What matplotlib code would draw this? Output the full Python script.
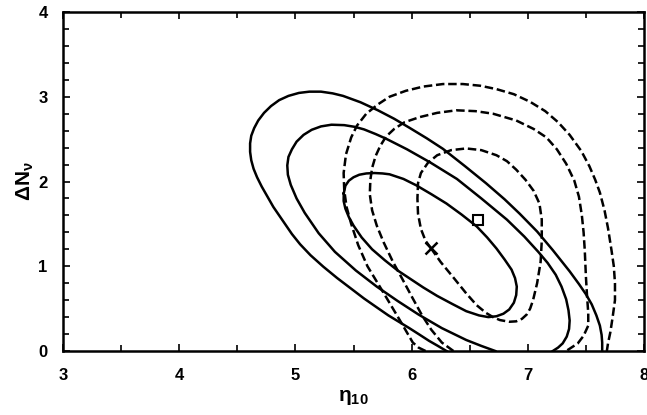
import matplotlib
matplotlib.use("Agg")
import matplotlib.pyplot as plt
from matplotlib.ticker import MultipleLocator

# contour lines, (eta10, dN_nu)
solid_inner = [(5.416, 1.86), (5.43, 1.95), (5.46, 2.01), (5.50, 2.05), (5.55, 2.08),
               (5.61, 2.095), (5.68, 2.10), (5.75, 2.095), (5.81, 2.085), (5.93, 2.03),
               (6.04, 1.955), (6.17, 1.85), (6.30, 1.74), (6.43, 1.61), (6.56, 1.47),
               (6.65, 1.34), (6.73, 1.21), (6.80, 1.08), (6.86, 0.96), (6.89, 0.86),
               (6.905, 0.76), (6.90, 0.66), (6.88, 0.57), (6.84, 0.49), (6.79, 0.44),
               (6.73, 0.41), (6.66, 0.40), (6.58, 0.42), (6.47, 0.47), (6.35, 0.555),
               (6.22, 0.65), (6.10, 0.75), (5.99, 0.85), (5.88, 0.95), (5.77, 1.07),
               (5.66, 1.20), (5.57, 1.34), (5.50, 1.48), (5.46, 1.58), (5.43, 1.68),
               (5.415, 1.77), (5.416, 1.86)]

solid_middle = [(6.72, 0.0), (6.60, 0.06), (6.47, 0.13), (6.26, 0.27), (6.06, 0.43),
                (5.88, 0.59), (5.70, 0.76), (5.52, 0.95), (5.34, 1.17), (5.20, 1.39),
                (5.08, 1.63), (5.01, 1.80), (4.96, 1.96), (4.935, 2.08), (4.93, 2.19),
                (4.94, 2.29), (4.97, 2.38), (5.01, 2.47), (5.07, 2.55), (5.14, 2.61),
                (5.22, 2.65), (5.31, 2.67), (5.42, 2.665), (5.51, 2.645), (5.59, 2.615),
                (5.69, 2.56), (5.78, 2.505), (5.96, 2.38), (6.16, 2.225), (6.39, 2.03),
                (6.60, 1.80), (6.82, 1.55), (6.97, 1.35), (7.09, 1.17), (7.17, 1.04),
                (7.24, 0.90), (7.29, 0.76), (7.33, 0.61), (7.35, 0.48), (7.36, 0.36),
                (7.355, 0.26), (7.335, 0.17), (7.30, 0.09), (7.26, 0.04), (7.215, 0.0)]

solid_outer = [(6.30, 0.0), (6.22, 0.065), (6.15, 0.12), (6.06, 0.20), (5.98, 0.27),
               (5.89, 0.345), (5.80, 0.42), (5.70, 0.515), (5.59, 0.62), (5.48, 0.735),
               (5.36, 0.86), (5.24, 0.995), (5.13, 1.13), (5.04, 1.26), (4.97, 1.38),
               (4.92, 1.48), (4.87, 1.58), (4.81, 1.70), (4.76, 1.82), (4.71, 1.94),
               (4.67, 2.05), (4.64, 2.15), (4.62, 2.25), (4.61, 2.35), (4.61, 2.45),
               (4.62, 2.54), (4.645, 2.63), (4.68, 2.72), (4.73, 2.81), (4.79, 2.89),
               (4.86, 2.96), (4.94, 3.01), (5.03, 3.045), (5.12, 3.06), (5.22, 3.06),
               (5.32, 3.04), (5.41, 3.01), (5.56, 2.935), (5.71, 2.84), (5.85, 2.74),
               (5.98, 2.635), (6.13, 2.51), (6.27, 2.385), (6.46, 2.18), (6.64, 1.98),
               (6.80, 1.79), (6.93, 1.62), (7.08, 1.41), (7.215, 1.19), (7.36, 0.94),
               (7.44, 0.79), (7.50, 0.67), (7.55, 0.55), (7.59, 0.42), (7.62, 0.30),
               (7.635, 0.19), (7.64, 0.10), (7.64, 0.0)]

dashed_inner = [(6.165, 1.215), (6.25, 1.05), (6.355, 0.875), (6.47, 0.68), (6.56, 0.54),
                (6.64, 0.45), (6.70, 0.40), (6.76, 0.365), (6.84, 0.345), (6.90, 0.35),
                (6.95, 0.38), (6.99, 0.43), (7.02, 0.50), (7.045, 0.60), (7.08, 0.80),
                (7.11, 1.05), (7.12, 1.30), (7.12, 1.55), (7.10, 1.74), (7.05, 1.89),
                (6.98, 2.02), (6.90, 2.14), (6.82, 2.24), (6.73, 2.31), (6.60, 2.37),
                (6.47, 2.39), (6.34, 2.37), (6.22, 2.31), (6.14, 2.22), (6.08, 2.10),
                (6.055, 1.98), (6.05, 1.80), (6.055, 1.62), (6.08, 1.44), (6.12, 1.30),
                (6.165, 1.215)]

dashed_middle = [(6.36, 0.0), (6.26, 0.10), (6.17, 0.25), (6.09, 0.42), (6.01, 0.62),
                 (5.92, 0.85), (5.84, 1.05), (5.76, 1.28), (5.70, 1.48), (5.66, 1.66),
                 (5.64, 1.85), (5.645, 2.02), (5.66, 2.16), (5.69, 2.30), (5.73, 2.42),
                 (5.78, 2.53), (5.85, 2.62), (5.94, 2.70), (6.07, 2.76), (6.22, 2.81),
                 (6.385, 2.84), (6.55, 2.83), (6.70, 2.80), (6.90, 2.72), (7.05, 2.62),
                 (7.16, 2.52), (7.25, 2.38), (7.33, 2.21), (7.40, 2.01), (7.44, 1.82),
                 (7.465, 1.60), (7.48, 1.40), (7.49, 1.19), (7.50, 0.875), (7.51, 0.64),
                 (7.52, 0.45), (7.52, 0.30), (7.48, 0.18), (7.43, 0.09), (7.33, 0.0)]

dashed_outer = [(6.12, 0.0), (6.06, 0.04), (6.01, 0.10), (5.90, 0.36), (5.77, 0.66),
                (5.62, 1.00), (5.54, 1.25), (5.48, 1.50), (5.44, 1.70), (5.42, 1.90),
                (5.415, 2.10), (5.435, 2.32), (5.48, 2.52), (5.53, 2.66), (5.61, 2.80),
                (5.71, 2.91), (5.81, 3.00), (5.95, 3.07), (6.10, 3.12), (6.27, 3.15),
                (6.44, 3.15), (6.59, 3.13), (6.73, 3.09), (6.88, 3.03), (7.02, 2.94),
                (7.15, 2.83), (7.26, 2.70), (7.36, 2.55), (7.46, 2.36), (7.53, 2.18),
                (7.58, 2.02), (7.62, 1.87), (7.66, 1.66), (7.69, 1.45), (7.72, 1.19),
                (7.74, 1.00), (7.75, 0.80), (7.75, 0.60), (7.73, 0.40), (7.71, 0.22),
                (7.69, 0.09), (7.68, 0.0)]

# best fit points
cross_pt = (6.165, 1.22)
square_pt = (6.575, 1.545)

plt.rcParams['font.family'] = ['Liberation Sans', 'DejaVu Sans']
plt.rcParams['font.weight'] = 'bold'
plt.rcParams['mathtext.fontset'] = 'custom'
plt.rcParams['mathtext.rm'] = 'Liberation Sans:bold'
plt.rcParams['mathtext.bf'] = 'Liberation Sans:bold'
plt.rcParams['mathtext.it'] = 'Liberation Sans:bold'

fig = plt.figure(figsize=(6.47, 4.15), dpi=100)
ax = fig.add_axes([0.0974, 0.1542, 0.8980, 0.8169])

for c in (solid_inner, solid_middle, solid_outer):
    xs, ys = zip(*c)
    ax.plot(xs, ys, color='black', lw=1.8, solid_joinstyle='round')

for c in (dashed_inner, dashed_middle, dashed_outer):
    xs, ys = zip(*c)
    ax.plot(xs, ys, color='black', lw=1.8, ls=(0, (3.4, 1.5)), dash_joinstyle='round')

ax.plot([cross_pt[0]], [cross_pt[1]], marker='x', ms=8, mew=1.8, color='black')
ax.plot([square_pt[0]], [square_pt[1]], marker='s', ms=7, mfc='none', mec='black', mew=1.5)

ax.set_xlim(3, 8)
ax.set_ylim(0, 4)
ax.xaxis.set_major_locator(MultipleLocator(1))
ax.xaxis.set_minor_locator(MultipleLocator(0.5))
ax.yaxis.set_major_locator(MultipleLocator(1))
ax.yaxis.set_minor_locator(MultipleLocator(0.2))
ax.tick_params(which='both', direction='in', top=True, right=True, width=1.2,
               labelsize=12)
ax.tick_params(axis='x', which='both', pad=12)
ax.tick_params(axis='y', which='both', pad=11)
ax.tick_params(which='major', length=5)
ax.tick_params(which='minor', length=4)
for s in ax.spines.values():
    s.set_linewidth(1.8)

ax.set_xlabel(r'$\mathbf{\eta_{10}}$', fontsize=15, labelpad=4)
ax.set_ylabel(r'$\mathbf{\Delta N_{\nu}}$', fontsize=15, labelpad=2)

plt.savefig("out.png", dpi=100)
